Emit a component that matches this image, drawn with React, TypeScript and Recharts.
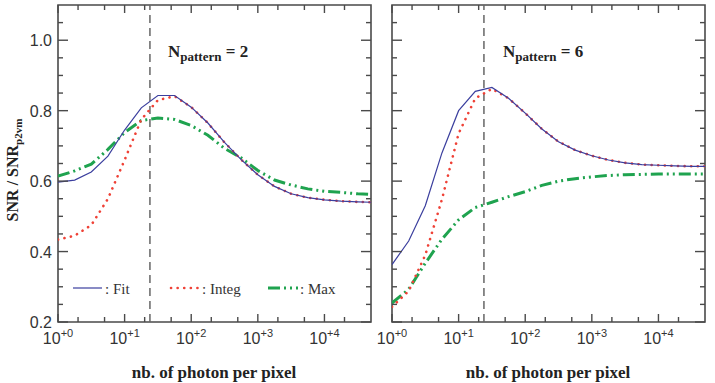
import React from 'react'
import { LineChart, Line, XAxis, YAxis, ReferenceLine, ReferenceArea } from 'recharts'

// photon counts (4 samples per decade)
const photons = [1, 1.78, 3.16, 5.62, 10, 17.8, 31.6, 56.2, 100, 178, 316, 562, 1000, 1780, 3160, 5620, 10000, 17800, 31600, 50000]

// N_pattern = 2
const fitN2 = [0.597, 0.603, 0.626, 0.671, 0.745, 0.808, 0.843, 0.843, 0.81, 0.765, 0.71, 0.661, 0.618, 0.585, 0.564, 0.553, 0.547, 0.543, 0.541, 0.54]
const integN2 = [0.434, 0.445, 0.475, 0.55, 0.66, 0.775, 0.83, 0.841, 0.81, 0.765, 0.71, 0.661, 0.618, 0.585, 0.564, 0.553, 0.547, 0.543, 0.541, 0.54]
const maxN2 = [0.614, 0.629, 0.648, 0.69, 0.738, 0.772, 0.779, 0.775, 0.758, 0.73, 0.693, 0.666, 0.63, 0.603, 0.589, 0.578, 0.571, 0.568, 0.564, 0.562]

// N_pattern = 6
const fitN6 = [0.363, 0.43, 0.53, 0.68, 0.8, 0.855, 0.866, 0.835, 0.793, 0.748, 0.712, 0.688, 0.672, 0.66, 0.652, 0.647, 0.645, 0.643, 0.642, 0.642]
const integN6 = [0.243, 0.288, 0.39, 0.548, 0.735, 0.835, 0.862, 0.835, 0.793, 0.748, 0.712, 0.688, 0.672, 0.66, 0.652, 0.647, 0.645, 0.643, 0.642, 0.642]
const maxN6 = [0.254, 0.293, 0.367, 0.435, 0.49, 0.525, 0.54, 0.556, 0.57, 0.588, 0.6, 0.607, 0.612, 0.616, 0.618, 0.619, 0.62, 0.62, 0.62, 0.62]

const xMajor = [1, 10, 100, 1000, 10000]
const xMinor = [2, 5, 20, 50, 200, 500, 2000, 5000, 20000]
const yMajor = [0.2, 0.4, 0.6, 0.8, 1.0]
const yMinor = [0.25, 0.3, 0.35, 0.45, 0.5, 0.55, 0.65, 0.7, 0.75, 0.85, 0.9, 0.95, 1.05]
const thresholdPhotons = 24

const X_DOMAIN = [1, 50000]
const Y_DOMAIN = [0.2, 1.1]
const PLOT_TOP = 5
const PLOT_W = 313
const PLOT_H = 317
const PANEL_LEFTS = [58, 392]
const FRAME = '#4a4a4a'
const NUM_FONT = '"Liberation Sans", Arial, sans-serif'
const SERIF = '"Liberation Serif", "Times New Roman", serif'

const buildRows = (fit: number[], integ: number[], max: number[]) =>
  photons.map((p, i) => ({ p, fit: fit[i], integ: integ[i], max: max[i] }))

function XLabel(props: any) {
  const { x, y, payload } = props
  const exp = Math.round(Math.log10(payload.value))
  return (
    <text x={x} y={y + 22} textAnchor="middle" fontFamily={NUM_FONT} fontSize={16} fill="#333">
      10<tspan dy={-7} fontSize={11}>{'+' + exp}</tspan>
    </text>
  )
}

function YLabel(props: any) {
  const { x, y, payload } = props
  return (
    <text x={x - 6} y={y + 6} textAnchor="end" fontFamily={NUM_FONT} fontSize={16} fill="#333">
      {payload.value.toFixed(1)}
    </text>
  )
}

// inward frame ticks on all four sides (same log / linear mapping as the axes)
function FrameTicks({ left }: { left: number }) {
  const sx = (v: number) => left + (Math.log10(v / X_DOMAIN[0]) / Math.log10(X_DOMAIN[1] / X_DOMAIN[0])) * PLOT_W
  const sy = (v: number) => PLOT_TOP + ((Y_DOMAIN[1] - v) / (Y_DOMAIN[1] - Y_DOMAIN[0])) * PLOT_H
  const bottom = PLOT_TOP + PLOT_H
  const right = left + PLOT_W
  const out: React.ReactNode[] = []
  xMajor.concat(xMinor).forEach((v) => {
    const len = xMajor.includes(v) ? 8 : 5
    const x = sx(v)
    out.push(<line key={'b' + v} x1={x} x2={x} y1={bottom} y2={bottom - len} />)
    out.push(<line key={'t' + v} x1={x} x2={x} y1={PLOT_TOP} y2={PLOT_TOP + len} />)
  })
  yMajor.concat(yMinor).forEach((v) => {
    const len = yMajor.includes(v) ? 10 : 5
    const y = sy(v)
    out.push(<line key={'l' + v} x1={left} x2={left + len} y1={y} y2={y} />)
    out.push(<line key={'r' + v} x1={right} x2={right - len} y1={y} y2={y} />)
  })
  return <g stroke={FRAME} strokeWidth={1.4}>{out}</g>
}

function Panel({ rows, width, leftMargin, leftWidth, right, showLabels }: any) {
  return (
    <LineChart width={width} height={383} data={rows} margin={{ top: PLOT_TOP, right, bottom: 31, left: leftMargin }}>
      <XAxis
        dataKey="p"
        type="number"
        scale="log"
        domain={X_DOMAIN}
        allowDataOverflow
        ticks={xMajor}
        interval={0}
        tickSize={0}
        tickMargin={0}
        tickLine={false}
        tick={<XLabel />}
        height={30}
        axisLine={false}
      />
      <YAxis
        type="number"
        domain={Y_DOMAIN}
        allowDataOverflow
        ticks={yMajor}
        interval={0}
        tickSize={0}
        tickMargin={0}
        tickLine={false}
        tick={showLabels ? <YLabel /> : false}
        width={leftWidth}
        axisLine={false}
      />
      <ReferenceArea x1={X_DOMAIN[0]} x2={X_DOMAIN[1]} y1={Y_DOMAIN[0]} y2={Y_DOMAIN[1]} fill="none" stroke={FRAME} strokeWidth={1.6} ifOverflow="visible" />
      <ReferenceLine x={thresholdPhotons} stroke="#666" strokeWidth={1.5} strokeDasharray="8 5" />
      <Line dataKey="max" stroke="#1fa34f" strokeWidth={3} strokeDasharray="12 4 2 4 2 4" dot={false} type="linear" isAnimationActive={false} />
      <Line dataKey="integ" stroke="#ef4136" strokeWidth={2.6} strokeDasharray="0.1 6.5" strokeLinecap="round" dot={false} type="linear" isAnimationActive={false} />
      <Line dataKey="fit" stroke="#3b3f9e" strokeWidth={1.2} dot={false} type="linear" isAnimationActive={false} />
    </LineChart>
  )
}

export default function App() {
  const rows2 = buildRows(fitN2, integN2, maxN2)
  const rows6 = buildRows(fitN6, integN6, maxN6)
  return (
    <div style={{ position: 'absolute', left: 0, top: 0, width: 715, height: 383, background: '#fff', overflow: 'hidden' }}>
      <div style={{ position: 'absolute', left: 0, top: 0 }}>
        <Panel rows={rows2} width={380} leftMargin={0} leftWidth={58} right={9} showLabels={true} />
      </div>
      <div style={{ position: 'absolute', left: 355, top: 0 }}>
        <Panel rows={rows6} width={360} leftMargin={25} leftWidth={12} right={10} showLabels={false} />
      </div>
      <svg width={715} height={383} style={{ position: 'absolute', left: 0, top: 0, pointerEvents: 'none' }}>
        {PANEL_LEFTS.map((l) => <FrameTicks key={l} left={l} />)}
        <text transform="translate(18,170) rotate(-90)" textAnchor="middle" fontFamily={SERIF} fontWeight="bold" fontSize={16} fill="#222">
          SNR  /  SNR<tspan dy={4} fontSize={11}>p2vm</tspan>
        </text>
        <text x={214} y={378} textAnchor="middle" fontFamily={SERIF} fontWeight="bold" fontSize={17} fill="#222">nb. of photon per pixel</text>
        <text x={548} y={378} textAnchor="middle" fontFamily={SERIF} fontWeight="bold" fontSize={17} fill="#222">nb. of photon per pixel</text>
        <text x={168} y={57} fontFamily={SERIF} fontWeight="bold" fontSize={17} fill="#222">
          N<tspan dy={4} fontSize={13}>pattern</tspan><tspan dy={-4}> = 2</tspan>
        </text>
        <text x={503} y={57} fontFamily={SERIF} fontWeight="bold" fontSize={17} fill="#222">
          N<tspan dy={4} fontSize={13}>pattern</tspan><tspan dy={-4}> = 6</tspan>
        </text>
        <line x1={73} x2={102} y1={288} y2={288} stroke="#3b3f9e" strokeWidth={1.2} />
        <text x={105} y={294} fontFamily={SERIF} fontSize={15} fill="#333">:  Fit</text>
        <line x1={171} x2={198} y1={288} y2={288} stroke="#ef4136" strokeWidth={2.6} strokeDasharray="0.1 6.5" strokeLinecap="round" />
        <text x={202} y={294} fontFamily={SERIF} fontSize={15} fill="#333">:  Integ</text>
        <line x1={268} x2={298} y1={288} y2={288} stroke="#1fa34f" strokeWidth={3} strokeDasharray="12 4 2 4 2 4" />
        <text x={300} y={294} fontFamily={SERIF} fontSize={15} fill="#333">:  Max</text>
      </svg>
    </div>
  )
}
